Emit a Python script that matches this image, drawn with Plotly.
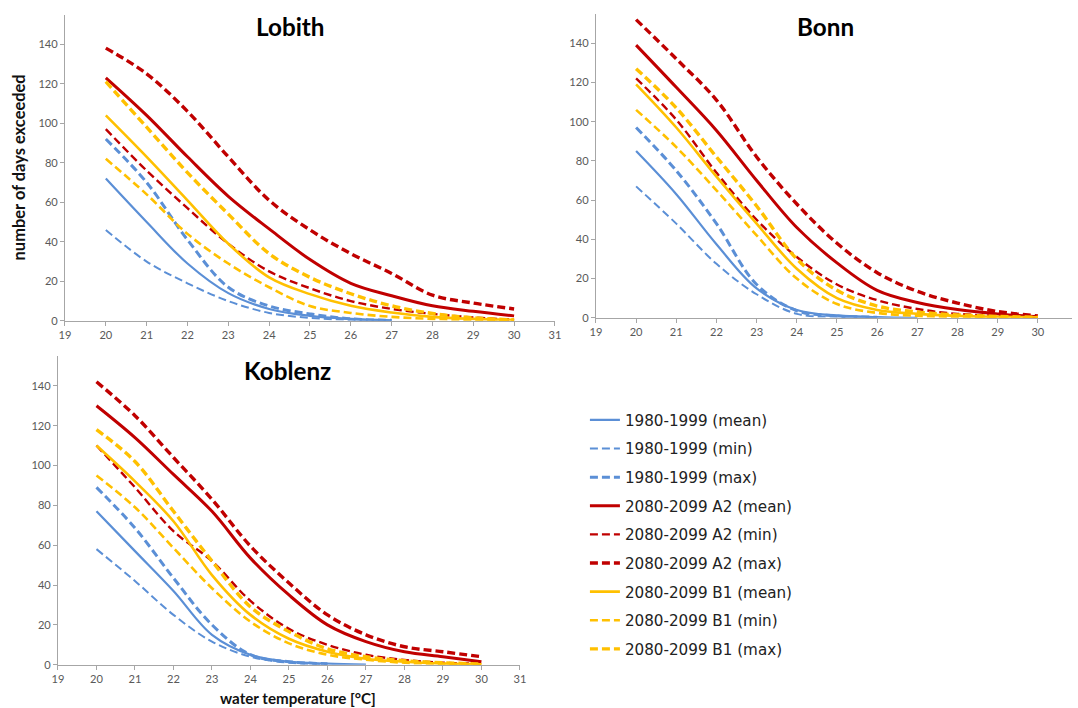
import plotly.graph_objects as go

temps = [20, 21, 22, 23, 24, 25, 26, 27, 28, 29, 30]
x_ticks = list(range(19, 32))
y_ticks = [0, 20, 40, 60, 80, 100, 120, 140]

series_names = [
    "1980-1999 (mean)", "1980-1999 (min)", "1980-1999 (max)",
    "2080-2099 A2 (mean)", "2080-2099 A2 (min)", "2080-2099 A2 (max)",
    "2080-2099 B1 (mean)", "2080-2099 B1 (min)", "2080-2099 B1 (max)",
]

# Lobith
lob_ref_mean = [72, 50, 29, 14, 6, 2.5, 1, 0.3, None, None, None]
lob_ref_min = [46, 30, 19, 10, 4, 1.5, 0.5, 0.1, None, None, None]
lob_ref_max = [92, 70, 41, 17, 7.5, 3.5, 1, 0.3, None, None, None]
lob_a2_mean = [123, 104, 83, 63, 46.5, 31, 19, 12.7, 7.6, 4.8, 2.5]
lob_a2_min = [97, 76, 57, 39, 25, 16.5, 10, 6, 3.5, 1.7, 0.5]
lob_a2_max = [138, 125, 106, 83, 61, 46, 34, 24, 13, 9, 6]
lob_b1_mean = [104, 83, 61, 39, 22, 13.5, 7.6, 4.2, 2, 1, 0.5]
lob_b1_min = [82, 64, 44, 29, 17, 7.5, 4, 2, 1, 0.5, 0.2]
lob_b1_max = [121, 98, 75, 54, 34, 22, 13.7, 7.6, 3.7, 1.5, 0.5]

# Bonn
bonn_ref_mean = [85, 63, 37.5, 15, 4, 1.2, 0.4, 0, None, None, None]
bonn_ref_min = [67, 48, 27.5, 12, 2, 0.5, 0, None, None, None, None]
bonn_ref_max = [97, 75, 48, 17, 3.6, 1, 0.3, None, None, None, None]
bonn_a2_mean = [139, 117.5, 95.5, 70, 46, 28, 14, 7.8, 4.2, 2, 0.5]
bonn_a2_min = [122, 101, 74, 50, 31, 17, 9, 4.5, 2, 1, 0.5]
bonn_a2_max = [152, 132, 111, 82, 58, 38, 23, 13.5, 7.5, 3.2, 1]
bonn_b1_mean = [119, 97, 72, 48, 25, 10, 4, 2, 1, 0.5, 0.2]
bonn_b1_min = [106, 87, 65, 42, 20, 7, 2.5, 1, 0.5, 0.3, 0.1]
bonn_b1_max = [127, 107, 82, 57, 30, 14, 6, 3, 1.5, 0.7, 0.3]

# Koblenz
kob_ref_mean = [77, 57, 37, 15, 5, 1.5, 0.5, 0, None, None, None]
kob_ref_min = [58, 42, 25, 11.6, 4, 1, 0.3, None, None, None, None]
kob_ref_max = [89, 68.6, 43.5, 20, 5, 1.5, 0.5, None, None, None, None]
kob_a2_mean = [130, 114, 95.5, 77, 53.5, 35, 20, 11.6, 6.5, 4, 1.5]
kob_a2_min = [110, 89, 67, 52, 32, 18, 10, 5, 2.4, 1, 0.5]
kob_a2_max = [142, 125, 104, 83, 59.5, 41, 25, 15, 9, 6.5, 4]
kob_b1_mean = [110, 92, 72, 45, 25, 13, 6.5, 3, 1.5, 0.6, 0.2]
kob_b1_min = [95, 79, 58.6, 38.4, 21.6, 10.7, 5, 2.5, 1, 0.5, 0.2]
kob_b1_max = [118, 102, 77, 52, 29, 16.6, 8, 4, 2, 1, 0.3]

panels = [
    ("x", "y", [lob_ref_mean, lob_ref_min, lob_ref_max, lob_a2_mean, lob_a2_min,
                lob_a2_max, lob_b1_mean, lob_b1_min, lob_b1_max]),
    ("x2", "y2", [bonn_ref_mean, bonn_ref_min, bonn_ref_max, bonn_a2_mean, bonn_a2_min,
                  bonn_a2_max, bonn_b1_mean, bonn_b1_min, bonn_b1_max]),
    ("x3", "y3", [kob_ref_mean, kob_ref_min, kob_ref_max, kob_a2_mean, kob_a2_min,
                  kob_a2_max, kob_b1_mean, kob_b1_min, kob_b1_max]),
]

BLUE = "#5B8FD6"
RED = "#C00000"
GOLD = "#FFC000"
DASH = "8px,4px"
styles = [
    dict(color=BLUE, width=2.2, dash="solid"),
    dict(color=BLUE, width=2.0, dash=DASH),
    dict(color=BLUE, width=3.0, dash=DASH),
    dict(color=RED, width=3.0, dash="solid"),
    dict(color=RED, width=2.4, dash=DASH),
    dict(color=RED, width=3.4, dash=DASH),
    dict(color=GOLD, width=2.6, dash="solid"),
    dict(color=GOLD, width=2.6, dash=DASH),
    dict(color=GOLD, width=3.4, dash=DASH),
]

fig = go.Figure()
for p_i, (xa, ya, data) in enumerate(panels):
    for s_i, vals in enumerate(data):
        fig.add_trace(go.Scatter(
            x=temps, y=vals, xaxis=xa, yaxis=ya, mode="lines",
            name=series_names[s_i], line=dict(shape="spline", smoothing=1.0, **styles[s_i]),
            showlegend=(p_i == 0), legendgroup=series_names[s_i],
        ))

W, H = 1078, 708
# the photographed page comes out slightly shrunk; place things so they land where intended
S, OX = 0.989, 6.0
def PX(x):
    return min(max((x - OX) / S, 0), W)
def PY(y):
    return min(max(y / S, 0), H)
def dx(a, b):
    return [PX(a) / W, PX(b) / W]
def dy(top, bottom):
    return [1 - PY(bottom) / H, 1 - PY(top) / H]
def fs(size):
    return size / S

tickfont = dict(family="Lato", size=fs(11), color="#595959")
axis_common = dict(showgrid=False, zeroline=False, showline=True, linecolor="#A6A6A6",
                   linewidth=1, ticks="outside", ticklen=4, tickcolor="#A6A6A6",
                   tickfont=tickfont)

# Bonn axis runs off the right edge of the picture (x=1078 ~ 30.85)
bonn_right = 19 + (PX(1078) - PX(596)) / ((PX(1038) - PX(596)) / 11)

fig.update_layout(
    width=W, height=H,
    margin=dict(l=0, r=0, t=0, b=0),
    paper_bgcolor="white", plot_bgcolor="white",
    font=dict(family="Lato", color="#222222"),
    xaxis=dict(domain=dx(65, 555), range=[19, 31], tickvals=x_ticks, anchor="y", **axis_common),
    yaxis=dict(domain=dy(14.5, 320), range=[0, 155], tickvals=y_ticks, anchor="x", **axis_common),
    xaxis2=dict(domain=[PX(596) / W, 1.0], range=[19, bonn_right], tickvals=x_ticks,
                anchor="y2", **axis_common),
    yaxis2=dict(domain=dy(13.7, 317), range=[0, 155], tickvals=y_ticks, anchor="x2", **axis_common),
    xaxis3=dict(domain=dx(58, 520), range=[19, 31], tickvals=x_ticks, anchor="y3", **axis_common),
    yaxis3=dict(domain=dy(355, 663), range=[0, 155], tickvals=y_ticks, anchor="x3", **axis_common),
    legend=dict(x=PX(585) / W, y=1 - 407 / H, xanchor="left", yanchor="top",
                font=dict(family="DejaVu Sans", size=fs(15), color="#222222"),
                tracegroupgap=5.9, bgcolor="rgba(0,0,0,0)", itemwidth=30),
    showlegend=True,
)

for title, cx, cy in [("Lobith", 291, 26), ("Bonn", 826, 26), ("Koblenz", 288, 370)]:
    fig.add_annotation(text="<b>" + title + "</b>", x=PX(cx) / W, y=1 - PY(cy) / H,
                       xref="paper", yref="paper", showarrow=False, xanchor="center",
                       yanchor="middle", font=dict(family="Lato", size=fs(24), color="#000000"))

fig.add_annotation(text="<b>number of days exceeded</b>", x=PX(19) / W, y=1 - PY(167) / H,
                   xref="paper", yref="paper", showarrow=False, textangle=-90,
                   xanchor="center", yanchor="middle",
                   font=dict(family="Lato", size=fs(16.3), color="#111111"))

fig.add_annotation(text="<b>water temperature [°C]</b>", x=PX(298) / W, y=1 - 704 / H,
                   xref="paper", yref="paper", showarrow=False, xanchor="center",
                   yanchor="middle", font=dict(family="Lato", size=fs(15), color="#111111"))

post = ("document.documentElement.style.margin='0';"
        "document.documentElement.style.overflow='hidden';"
        "document.body.style.margin='0';"
        "document.body.style.overflow='hidden';")
fig.write_html("out.html", config=dict(displayModeBar=False), post_script=post)
